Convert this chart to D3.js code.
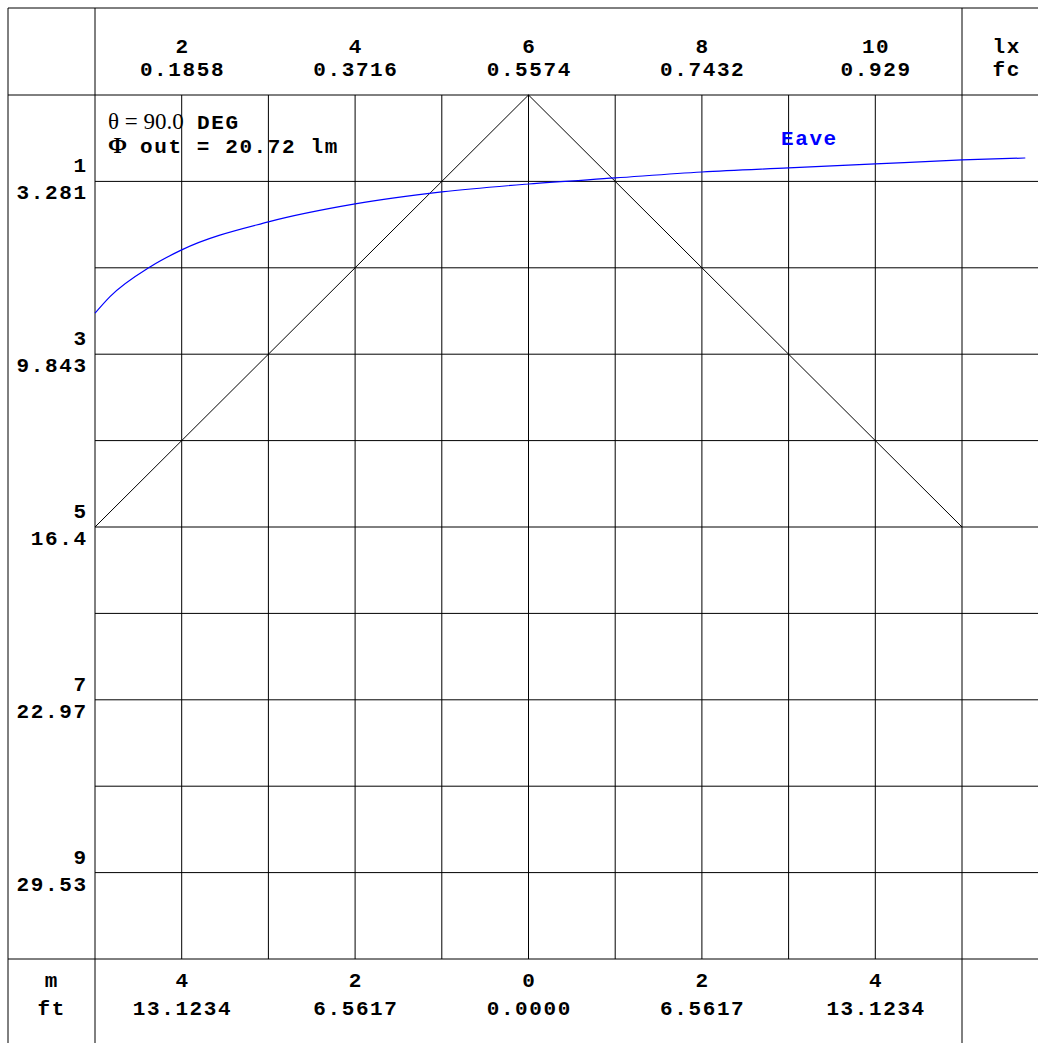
<!DOCTYPE html>
<html><head><meta charset="utf-8">
<script src="https://cdn.jsdelivr.net/npm/d3@7"></script>
<style>
html,body{margin:0;padding:0;background:#fff;}
svg text{font-family:"Liberation Mono",monospace;font-weight:bold;font-size:21px;letter-spacing:1.6px;}
</style></head>
<body>
<svg id="c" width="1038" height="1043"></svg>
<script>
// Top axis: illuminance (lx) and foot-candles (fc)
const luxTicks = [2, 4, 6, 8, 10];
const fcLabels = ["0.1858", "0.3716", "0.5574", "0.7432", "0.929"];
// Left axis: distance (m) and feet
const distTicks = [1, 3, 5, 7, 9];
const distFtLabels = ["3.281", "9.843", "16.4", "22.97", "29.53"];
// Bottom axis: lateral offset (m) and feet
const latTicks = [-4, -2, 0, 2, 4];
const latMLabels = ["4", "2", "0", "2", "4"];
const latFtLabels = ["13.1234", "6.5617", "0.0000", "6.5617", "13.1234"];
// Beam cone (theta = 90 deg): lateral offset (m) vs depth (m)
const coneLat = [-5, 0, 5];
const coneDepth = [5, 0, 5];
// Eave curve: average illuminance (lx) vs distance (m)
const eaveLux = [1.0, 1.173, 1.634, 2, 3, 4, 5, 6, 7, 8, 9, 10, 11, 11.73];
const eaveDist = [2.525, 2.333, 1.990, 1.793, 1.469, 1.261, 1.122, 1.030, 0.960, 0.891, 0.844, 0.798, 0.752, 0.729];

const svg = d3.select("#c");
const L = 95, R = 962, T = 95, B = 959, W = 1038, H = 1043, O = 8;

const xLux = d3.scaleLinear().domain([1, 11]).range([L, R]);
const xLat = d3.scaleLinear().domain([-5, 5]).range([L, R]);
const yD = d3.scaleLinear().domain([0, 10]).range([T, B]);

const g = svg.append("g").attr("stroke", "#000").attr("stroke-width", 1).attr("fill", "none");
g.append("line").attr("x1", O).attr("x2", W).attr("y1", O).attr("y2", O);
g.append("line").attr("x1", O).attr("x2", O).attr("y1", O).attr("y2", H);
g.append("line").attr("x1", O).attr("x2", W).attr("y1", T).attr("y2", T);
g.append("line").attr("x1", O).attr("x2", W).attr("y1", B).attr("y2", B);
g.append("line").attr("x1", L).attr("x2", L).attr("y1", O).attr("y2", H);
g.append("line").attr("x1", R).attr("x2", R).attr("y1", O).attr("y2", H);
const hGrid = d3.range(1, 10);
g.selectAll(".h").data(hGrid).join("line")
  .attr("x1", L).attr("x2", W).attr("y1", d => yD(d)).attr("y2", d => yD(d));
const vGrid = d3.range(-4, 5);
g.selectAll(".v").data(vGrid).join("line")
  .attr("x1", d => xLat(d)).attr("x2", d => xLat(d)).attr("y1", T).attr("y2", B);

const cone = coneLat.map((v, i) => [xLat(v), yD(coneDepth[i])]);
svg.append("path").attr("d", d3.line()(cone)).attr("fill", "none").attr("stroke", "#000").attr("stroke-width", 1);

const eave = eaveLux.map((v, i) => [xLux(v), yD(eaveDist[i])]);
svg.append("path").attr("d", d3.line().curve(d3.curveMonotoneX)(eave))
  .attr("fill", "none").attr("stroke", "#0000ff").attr("stroke-width", 1.2);

const LS = 1.6;
function txt(x, y, s, anchor, color) {
  const t = svg.append("text").attr("y", y).attr("fill", color || "#000").text(s);
  if (anchor === "middle") t.attr("x", x + LS / 2).attr("text-anchor", "middle");
  else if (anchor === "end") t.attr("x", x + LS).attr("text-anchor", "end");
  else t.attr("x", x);
  return t;
}
luxTicks.forEach((v, i) => {
  txt(xLux(v), 53, String(v), "middle");
  txt(xLux(v), 76, fcLabels[i], "middle");
});
txt(1006, 53, "lx", "middle");
txt(1006, 76, "fc", "middle");
distTicks.forEach((v, i) => {
  txt(86, yD(v) - 9, String(v), "end");
  txt(86, yD(v) + 18, distFtLabels[i], "end");
});
latTicks.forEach((v, i) => {
  txt(xLat(v), 987, latMLabels[i], "middle");
  txt(xLat(v), 1015, latFtLabels[i], "middle");
});
txt(51, 987, "m", "middle");
txt(51, 1015, "ft", "middle");

svg.append("text").attr("x", 108).attr("y", 129)
  .style("font-family", "'Liberation Serif',serif").style("font-weight", "normal").style("letter-spacing", "0px").style("font-size", "23px")
  .text("θ = 90.0");
txt(197, 129, "DEG");
svg.append("text").attr("x", 108).attr("y", 153)
  .style("font-family", "'Liberation Serif',serif").style("letter-spacing", "0px").style("font-size", "23px")
  .text("Φ");
txt(140, 153, "out = 20.72 lm");
txt(781, 145, "Eave", null, "#0000ff");
</script>
</body></html>
